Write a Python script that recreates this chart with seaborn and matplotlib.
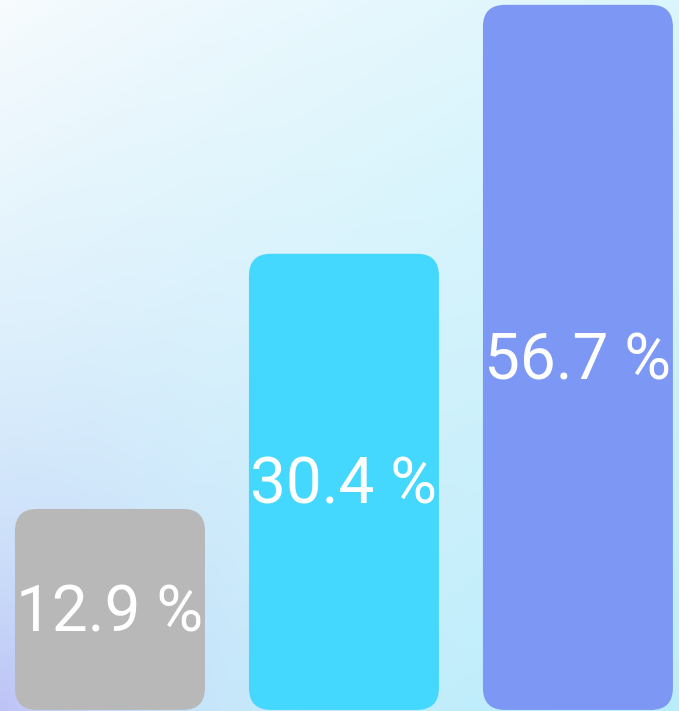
import numpy as np
import pandas as pd
import matplotlib
matplotlib.use("Agg")
import matplotlib.pyplot as plt
from matplotlib.patches import FancyBboxPatch
from matplotlib.transforms import IdentityTransform
import seaborn as sns

# ---- data ----
categories = ["A", "B", "C"]
values = [12.9, 30.4, 56.7]
labels = ["12.9 %", "30.4 %", "56.7 %"]
bar_colors = ["#b8b8b8", "#44d8fe", "#7c98f4"]

sns.set_theme(style="white")
plt.rcParams["font.family"] = ["Roboto", "DejaVu Sans"]

W, H, DPI = 679, 711, 100
fig = plt.figure(figsize=(W / DPI, H / DPI), dpi=DPI)

# ---- gradient background ----
bg = fig.add_axes([0, 0, 1, 1], zorder=0)
yy, xx = np.mgrid[0:H, 0:W].astype(float)
t = np.clip((0.8 * xx + 1.1 * yy) / (0.8 * W + 1.1 * H), 0, 1) ** 0.8
c0 = np.array([250, 253, 254]) / 255.0
c1 = np.array([186, 238, 251]) / 255.0
base = c0[None, None, :] * (1 - t[..., None]) + c1[None, None, :] * t[..., None]
lav = np.array([190, 194, 246]) / 255.0
d = np.sqrt((xx * 1.3) ** 2 + (H - yy) ** 2)
w = np.exp(-d / 200.0)[..., None]
img = base * (1 - w) + lav[None, None, :] * w
bg.imshow(img, aspect="auto", extent=(0, 1, 0, 1), origin="upper")
bg.set_axis_off()

# ---- bars ----
ax = fig.add_axes([0, 0, 1, 1], zorder=1)
ax.patch.set_alpha(0)
df = pd.DataFrame({"cat": categories, "val": values})
sns.barplot(data=df, x="cat", y="val", hue="cat", palette=bar_colors,
            width=0.812, legend=False, ax=ax, saturation=1)

fwd = lambda v: np.sign(v) * np.abs(v) ** 0.4
inv = lambda v: np.sign(v) * np.abs(v) ** 2.5
ax.set_yscale("function", functions=(fwd, inv))
y_base = 4.88
ax.set_ylim(4.849, 57.31)
ax.set_xlim(-0.470, 2.432)
ax.set_axis_off()

fig.canvas.draw()
base_px = ax.transData.transform((0, y_base))[1]
for p, lab in zip(list(ax.patches), labels):
    bb = p.get_window_extent()
    y0 = max(bb.y0, base_px)
    fb = FancyBboxPatch((bb.x0, y0), bb.width, bb.y1 - y0,
                        boxstyle="round,pad=0,rounding_size=22",
                        transform=IdentityTransform(),
                        fc=p.get_facecolor(), ec="none", zorder=2)
    fig.add_artist(fb)
    p.set_visible(False)
    fs = 46
    cap = 0.711 * fs * DPI / 72.0
    cx = bb.x0 + bb.width / 2
    cy = (y0 + bb.y1) / 2
    fig.text(cx, cy - cap / 2 + 1, lab, transform=IdentityTransform(),
             ha="center", va="baseline", color="white", fontsize=fs,
             zorder=3)

fig.savefig("out.png", dpi=DPI)
